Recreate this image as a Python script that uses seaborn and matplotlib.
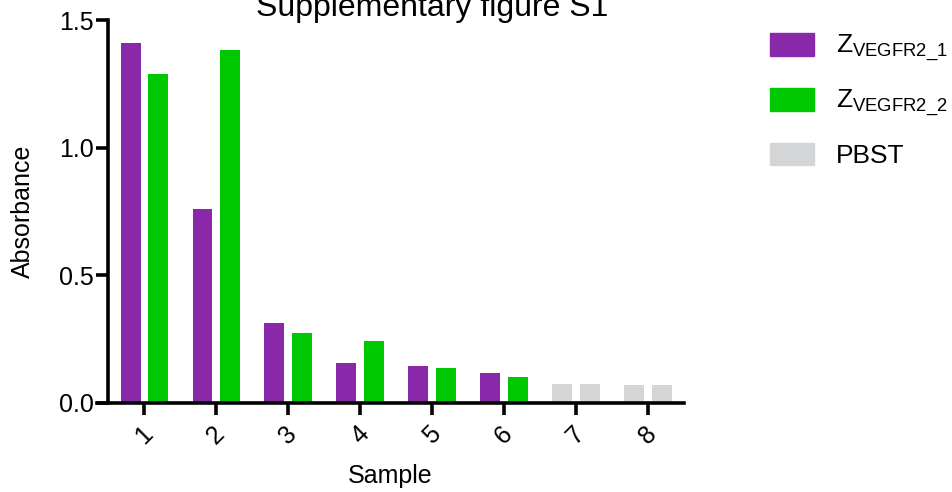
import matplotlib
matplotlib.use("Agg")
import matplotlib.pyplot as plt
import matplotlib.patches as mpatches
import seaborn as sns
import pandas as pd

# ---- data ----
samples = ["1", "2", "3", "4", "5", "6", "7", "8"]
first_bar = [1.410, 0.759, 0.313, 0.157, 0.145, 0.117, 0.073, 0.069]
second_bar = [1.290, 1.384, 0.274, 0.243, 0.137, 0.103, 0.073, 0.069]
first_group = ["Z1", "Z1", "Z1", "Z1", "Z1", "Z1", "PBST", "PBST"]
second_group = ["Z2", "Z2", "Z2", "Z2", "Z2", "Z2", "PBST", "PBST"]
group_labels = {"Z1": r"Z$_{\mathrm{VEGFR2\_1}}$",
                "Z2": r"Z$_{\mathrm{VEGFR2\_2}}$",
                "PBST": "PBST"}
group_colors = {"Z1": "#8A28AA", "Z2": "#00C800", "PBST": "#D4D5D7"}
y_ticks = [0.0, 0.5, 1.0, 1.5]
title = "Supplementary figure S1"

sns.set_style("ticks")
plt.rcParams["font.family"] = ["Liberation Sans", "DejaVu Sans"]
plt.rcParams["mathtext.fontset"] = "custom"
plt.rcParams["mathtext.rm"] = "Liberation Sans"
plt.rcParams["mathtext.it"] = "Liberation Sans:italic"
plt.rcParams["mathtext.bf"] = "Liberation Sans:bold"
plt.rcParams["text.color"] = "black"
plt.rcParams["axes.labelcolor"] = "black"
plt.rcParams["xtick.color"] = "black"
plt.rcParams["ytick.color"] = "black"

df = pd.DataFrame({
    "Sample": samples + samples,
    "Value": first_bar + second_bar,
    "Slot": ["a"] * len(samples) + ["b"] * len(samples),
    "Group": first_group + second_group,
})

fig = plt.figure(figsize=(9.52, 4.92), dpi=100)
ax = fig.add_axes([96.7 / 952, (492 - 403) / 492, (684 - 96.7) / 952, 383 / 492])

sns.barplot(data=df, x="Sample", y="Value", hue="Slot", order=samples,
            hue_order=["a", "b"], width=0.76, gap=0.27, dodge=True,
            palette=["#8A28AA", "#00C800"], ax=ax, legend=False,
            linewidth=0, saturation=1)

groups_by_slot = [first_group, second_group]
for cont, grp in zip(ax.containers, groups_by_slot):
    for bar, g in zip(cont, grp):
        bar.set_facecolor(group_colors[g])
        bar.set_edgecolor(group_colors[g])

ax.set_xlim(-0.66, 7.5)
ax.set_ylim(0, 1.5)
ax.set_yticks(y_ticks)
ax.set_yticklabels([f"{v:.1f}" for v in y_ticks])

for s in ["top", "right"]:
    ax.spines[s].set_visible(False)
ax.spines["left"].set_position(("data", -0.5))
for s in ["left", "bottom"]:
    ax.spines[s].set_linewidth(2.6)
    ax.spines[s].set_color("black")
ax.spines["left"].set_capstyle("projecting")

ax.tick_params(axis="both", which="major", length=8.5, width=2.6,
               color="black", labelsize=18, labelcolor="black", direction="out")
ax.tick_params(axis="y", pad=2)
ax.tick_params(axis="x", pad=5)
for lbl in ax.get_xticklabels():
    lbl.set_rotation(45)
    lbl.set_ha("center")
    lbl.set_va("top")

ax.set_xlabel("Sample", fontsize=18, color="black")
ax.set_ylabel("Absorbance", fontsize=18, color="black")
ax.xaxis.set_label_coords(0.5, -0.16)
ax.yaxis.set_label_coords(-0.105, 0.5)

fig.text(432 / 952, 1 - 16 / 492, title, ha="center", va="baseline",
         fontsize=23, color="black")

handles = [mpatches.Patch(facecolor=group_colors[k], edgecolor=group_colors[k], label=group_labels[k])
           for k in ["Z1", "Z2", "PBST"]]
fig.legend(handles=handles, loc="upper left", bbox_to_anchor=(770 / 952, 1 - 33 / 492),
           frameon=False, fontsize=19, handlelength=1.65, handleheight=0.92,
           handletextpad=0.84, labelspacing=0.9, borderpad=0, borderaxespad=0)

fig.savefig("out.png", dpi=100)
